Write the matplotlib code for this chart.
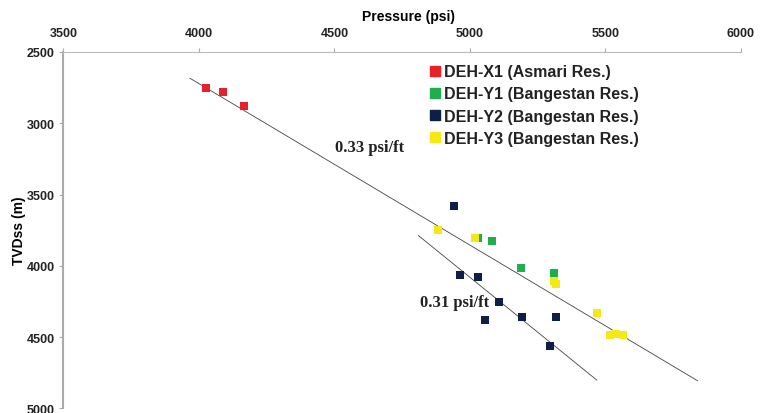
import matplotlib.pyplot as plt
from matplotlib.lines import Line2D

# data
x1_p = [4027, 4090, 4168]
x1_d = [2755, 2780, 2877]
y1_p = [5030, 5083, 5190, 5311]
y1_d = [3802, 3828, 4015, 4050]
y2_p = [4942, 4963, 5031, 5109, 5056, 5194, 5319, 5296]
y2_d = [3580, 4066, 4080, 4255, 4382, 4363, 4356, 4566]
y3_p = [4882, 5018, 5311, 5317, 5469, 5517, 5540, 5563]
y3_d = [3750, 3802, 4104, 4127, 4328, 4485, 4478, 4485]

# trend lines (end points)
line1_p = [3967, 5840]
line1_d = [2684, 4807]
line2_p = [4810, 5468]
line2_d = [3788, 4802]

labels = ["DEH-X1 (Asmari Res.)", "DEH-Y1 (Bangestan Res.)",
          "DEH-Y2 (Bangestan Res.)", "DEH-Y3 (Bangestan Res.)"]
colors = ["#e8202a", "#1fae4e", "#0d1f45", "#f5e814"]

plt.rcParams['font.family'] = ['Liberation Sans', 'DejaVu Sans']

fig = plt.figure(figsize=(7.7, 4.14), dpi=100)
ax = fig.add_axes([0.0822, 0.0114, 0.8801, 0.8606])

ax.plot(line1_p, line1_d, color="#444444", lw=0.6, zorder=1)
ax.plot(line2_p, line2_d, color="#444444", lw=0.6, zorder=1)

ms = 36
ax.scatter(x1_p, x1_d, marker="s", s=ms, color=colors[0], lw=0, zorder=3)
ax.scatter(y1_p, y1_d, marker="s", s=ms, color=colors[1], lw=0, zorder=3)
ax.scatter(y2_p, y2_d, marker="s", s=ms, color=colors[2], lw=0, zorder=3)
ax.scatter(y3_p, y3_d, marker="s", s=ms, color=colors[3], lw=0, zorder=3)

ax.text(4503, 3168, "0.33 psi/ft", family="Liberation Serif", fontweight="bold",
        fontsize=12, va="center", ha="left", color="#222222")
ax.text(4816, 4255, "0.31 psi/ft", family="Liberation Serif", fontweight="bold",
        fontsize=12, va="center", ha="left", color="#222222")

ax.set_xlim(3500, 6000)
ax.set_ylim(5000, 2500)
ax.set_xticks([3500, 4000, 4500, 5000, 5500, 6000])
ax.set_yticks([2500, 3000, 3500, 4000, 4500, 5000])
ax.xaxis.tick_top()
ax.xaxis.set_label_position("top")
ax.set_xlabel("Pressure (psi)", fontsize=10, fontweight="bold", labelpad=3)
ax.xaxis.set_label_coords(0.509, 1.09)
ax.set_ylabel("TVDss (m)", fontsize=10, fontweight="bold")
ax.yaxis.set_label_coords(-0.055, 0.5)
ax.tick_params(labelsize=9, length=3, width=0.8, color="#aaaaaa")
ax.tick_params(axis="x", pad=6)
ax.tick_params(axis="y", pad=3)
for lbl in ax.get_xticklabels() + ax.get_yticklabels():
    lbl.set_fontweight("bold")
    lbl.set_color("#222222")

for s in ["right", "bottom"]:
    ax.spines[s].set_visible(False)
ax.spines["top"].set_color("#bbbbbb")
ax.spines["left"].set_color("#aaaaaa")
ax.spines["left"].set_linewidth(1.5)

handles = [Line2D([], [], marker="s", ls="", color=c, markersize=7) for c in colors]
leg = ax.legend(handles, labels, loc="upper left", bbox_to_anchor=(0.543, 0.965),
                frameon=False, fontsize=11.5, handlelength=0.5, handletextpad=0.3,
                labelspacing=0.44, borderpad=0, borderaxespad=0)
for t in leg.get_texts():
    t.set_fontweight("bold")
    t.set_color("#222222")

fig.savefig("out.png", dpi=100)
